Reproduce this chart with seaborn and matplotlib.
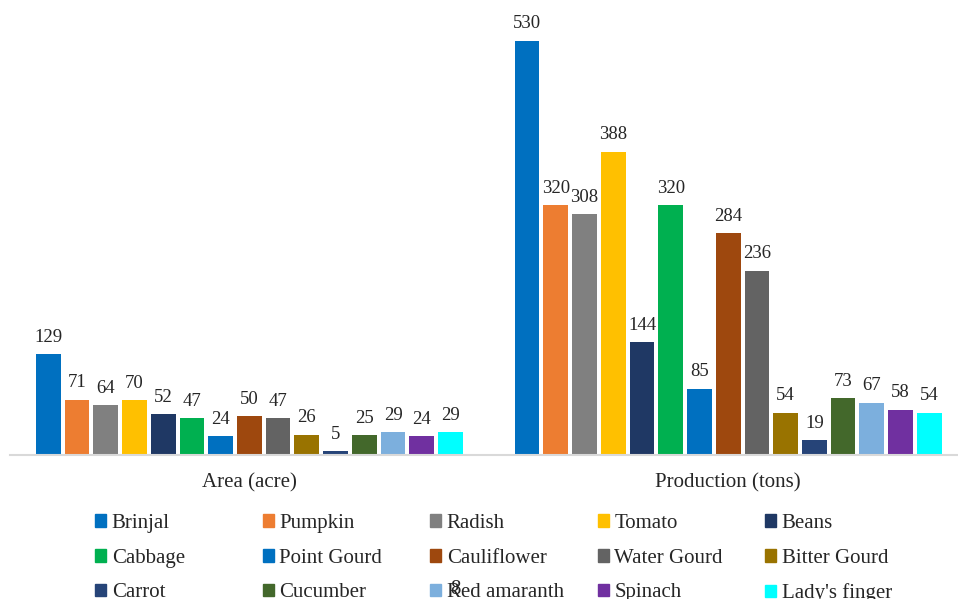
import numpy as np
import pandas as pd
import matplotlib
matplotlib.use('Agg')
import matplotlib.pyplot as plt
import seaborn as sns

sns.set_style("white")
plt.rcParams['font.family'] = ['Liberation Serif', 'DejaVu Serif']

crops = ['Brinjal', 'Pumpkin', 'Radish', 'Tomato', 'Beans', 'Cabbage', 'Point Gourd',
         'Cauliflower', 'Water Gourd', 'Bitter Gourd', 'Carrot', 'Cucumber',
         'Red amaranth', 'Spinach', "Lady's finger"]
groups = ['Area (acre)', 'Production (tons)']
area = [129, 71, 64, 70, 52, 47, 24, 50, 47, 26, 5, 25, 29, 24, 29]
production = [530, 320, 308, 388, 144, 320, 85, 284, 236, 54, 19, 73, 67, 58, 54]
colors = ['#0070C0', '#ED7D31', '#808080', '#FFC000', '#1F3864', '#00B050', '#0070C0',
          '#9E480E', '#636363', '#997300', '#264478', '#43682B', '#7CAFDD', '#7030A0',
          '#00FFFF']

df = pd.DataFrame({
    'group': [groups[0]] * len(crops) + [groups[1]] * len(crops),
    'crop': crops + crops,
    'value': area + production,
})

fig = plt.figure(figsize=(9.58, 5.99), dpi=100)
ax = fig.add_axes([10 / 958, 144 / 599, 1 - 10 / 958, 440 / 599])

sns.barplot(data=df, x='group', y='value', hue='crop', hue_order=crops,
            palette=colors, saturation=1, width=0.9, gap=0.14, ax=ax, legend=False,
            edgecolor='none', linewidth=0)

for cont in ax.containers:
    ax.bar_label(cont, padding=6, fontsize=13.5)

ax.set_xlim(-0.5, 1.48)
ax.set_ylim(0, 563)
ax.set_xlabel('')
ax.set_ylabel('')
ax.set_yticks([])
ax.tick_params(axis='x', length=0, labelsize=15, pad=13)
for s in ['top', 'right', 'left']:
    ax.spines[s].set_visible(False)
ax.spines['bottom'].set_color('#D9D9D9')
ax.spines['bottom'].set_linewidth(1.5)

# legend: 5 evenly spaced columns, filled row by row
ncol = 5
col_x = [95 + 167.5 * i for i in range(ncol)]
for c in range(ncol):
    idx = list(range(c, len(crops), ncol))
    handles = [plt.Rectangle((0, 0), 1, 1, color=colors[i]) for i in idx]
    fig.legend(handles, [crops[i] for i in idx], loc='upper left',
               bbox_to_anchor=(col_x[c] / 958, 1 - 514 / 599),
               frameon=False, fontsize=15, handlelength=0.55, handleheight=0.55,
               handletextpad=0.25, labelspacing=0.75, borderpad=0, borderaxespad=0)

fig.text(455 / 958, 1 - 590 / 599, '8', fontsize=15, ha='center', va='center')

fig.savefig('out.png', dpi=100)
